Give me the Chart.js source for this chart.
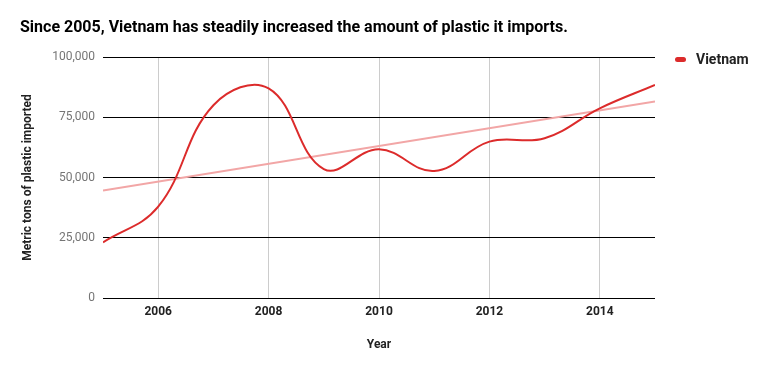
<!DOCTYPE html>
<html>
<head>
<meta charset="utf-8">
<script src="https://cdn.jsdelivr.net/npm/chart.js@4.4.1/dist/chart.umd.min.js"></script>
<style>
  html, body { margin: 0; padding: 0; background: #fff; }
  #wrap { position: relative; width: 768px; height: 371px; }
  #legend { position: absolute; left: 675px; top: 51px; height: 16px; line-height: 16px;
            font: bold 14px Roboto, sans-serif; color: #222; display: flex; align-items: center; }
  #legend .swatch { width: 11px; height: 5px; border-radius: 3px; margin-right: 10px; }
</style>
</head>
<body>
<div id="wrap">
  <canvas id="chart" width="768" height="371"></canvas>
  <div id="legend"><span class="swatch"></span><span class="lbl"></span></div>
</div>
<script>
// Données
const years = [2005, 2006, 2007, 2008, 2009, 2010, 2011, 2012, 2013, 2014, 2015];
const vietnamTons = [23100, 37900, 80000, 87000, 53500, 61700, 52700, 64900, 66300, 78700, 88400];
const trendYears = [2005, 2015];
const trendTons = [44600, 81500];
const xTickYears = [2006, 2008, 2010, 2012, 2014];
const yTickValues = [0, 25000, 50000, 75000, 100000];

const seriesName = 'Vietnam';
const lineColor = '#dc2b2b';
const trendColor = '#f2a6a6';

// Légende
document.querySelector('#legend .swatch').style.background = lineColor;
document.querySelector('#legend .lbl').textContent = seriesName;

const font = (size, weight) => ({ family: 'Roboto', size: size, weight: weight });

new Chart(document.getElementById('chart'), {
  type: 'line',
  data: {
    datasets: [
      {
        label: seriesName,
        data: years.map((y, i) => ({ x: y, y: vietnamTons[i] })),
        borderColor: lineColor,
        borderWidth: 2,
        pointRadius: 0,
        tension: 0.4,
        fill: false
      },
      {
        label: 'Trend',
        data: trendYears.map((y, i) => ({ x: y, y: trendTons[i] })),
        borderColor: trendColor,
        borderWidth: 2,
        pointRadius: 0,
        tension: 0,
        fill: false
      }
    ]
  },
  options: {
    responsive: false,
    animation: false,
    layout: { padding: { left: 20, right: 113, top: 0, bottom: 0 } },
    plugins: {
      legend: { display: false },
      tooltip: { enabled: false },
      title: {
        display: true,
        text: 'Since 2005, Vietnam has steadily increased the amount of plastic it imports.',
        align: 'start',
        color: '#000',
        font: font(16, 'bold'),
        padding: { top: 18.6, bottom: 19.2 }
      }
    },
    scales: {
      x: {
        type: 'linear',
        min: 2005,
        max: 2015,
        afterBuildTicks: s => { s.ticks = xTickYears.map(v => ({ value: v })); },
        afterFit: s => { s.height = 73; },
        grid: { color: '#cccccc', drawTicks: false },
        border: { display: false },
        ticks: { padding: 7, color: '#222', font: font(12, 'bold'), autoSkip: false, maxRotation: 0,
                 callback: v => String(v) },
        title: { display: true, text: 'Year', color: '#222', font: font(12, 'bold'),
                 padding: { top: 0, bottom: 19 } }
      },
      y: {
        min: 0,
        max: 100000,
        afterBuildTicks: s => { s.ticks = yTickValues.map(v => ({ value: v })); },
        afterFit: s => { s.width = 83; },
        grid: { color: '#000', drawTicks: false },
        border: { display: false },
        ticks: { padding: 8, color: '#757575', font: font(12, 'normal'),
                 callback: v => v.toLocaleString('en-US') },
        title: { display: true, text: 'Metric tons of plastic imported', color: '#222',
                 font: font(12, 'bold'), padding: { top: 1, bottom: 0 } }
      }
    }
  }
});
</script>
</body>
</html>
